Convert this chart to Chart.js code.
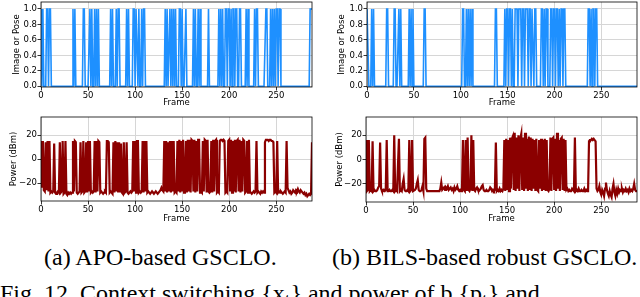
<!DOCTYPE html>
<html>
<head>
<meta charset="utf-8">
<script src="https://cdn.jsdelivr.net/npm/chart.js@4"></script>
<style>
body { margin:0; width:640px; height:297px; overflow:hidden; background:#fff; position:relative; }
canvas { position:absolute; }
.cap { position:absolute; font-family:"Liberation Serif", "Times New Roman", serif; font-size:24px; line-height:24px; color:#000; white-space:nowrap; }
</style>
</head>
<body>
<canvas id="imgA" width="320" height="110" style="left:0;top:0"></canvas>
<canvas id="imgB" width="320" height="110" style="left:320px;top:0"></canvas>
<canvas id="powA" width="320" height="120" style="left:0;top:110px"></canvas>
<canvas id="powB" width="320" height="120" style="left:320px;top:110px"></canvas>
<div class="cap" style="left:44px;top:245px">(a) APO-based GSCLO.</div>
<div class="cap" style="left:332px;top:245px">(b) BILS-based robust GSCLO.</div>
<div class="cap" style="left:0;top:281px">Fig. 12. Context switching {x<sub>t</sub>} and power of b {p<sub>t</sub>} and</div>
<script>
// frames 0..288
const lastFrame = 288

// frames where the image mode is used (value 1), all others are pose (0)
const imageOnA = [0,2,6,7,9,10,34,36,45,46,52,54,57,59,61,74,76,80,82,83,91,93,98,99,101,102,104,107,109,110,
  132,134,137,139,141,143,147,148,150,154,162,164,167,169,178,189,191,193,196,197,199,200,202,204,205,207,208,
  211,212,218,220,227,229,230,239,240,244,246,248,250,251,253,254,286,287,288]
const imageOnB = [0,1,5,7,21,22,29,30,34,36,45,47,49,61,62,102,103,106,108,110,112,137,138,147,149,150,152,153,155,
  158,159,160,162,163,164,166,167,169,170,171,173,174,176,177,179,180,186,187,189,191,192,196,197,199,200,202,203,
  205,207,208,210,211,236,237,239,241,242,244,245]

// transmit power in dBm, one value per frame
const powerA = [
  15,-24,15,-26,-27,14,-26,15,-27,15,
  -28,-27,-28,-27,13,-28,-29,-28,-27,-28,
  14,-28,-27,15,-29,-28,15,-29,-30,-28,
  -29,-28,-29,-28,15,-27,15,14,-28,-29,
  -28,-27,14,-28,-27,15,-28,-27,14,-28,
  15,-27,15,-28,-27,-28,-27,15,-28,15,
  -27,15,14,-28,-27,-28,-29,-28,-27,-28,
  15,15,14,-28,-27,-28,-29,14,-28,15,
  -27,14,-28,14,-27,13,-28,-29,14,-28,
  -27,14,-28,-29,-28,-27,-28,-27,15,-27,
  15,-28,15,15,-28,-27,-28,-27,15,-28,
  15,-27,15,-28,-27,-28,-29,-28,-27,-28,
  -29,-28,-27,-28,-29,-28,-27,-26,-24,-26,
  -27,15,-27,15,-28,14,-27,15,-28,15,
  -27,15,-28,-27,-28,15,-27,16,-28,15,
  -27,16,-28,-27,15,-28,16,-27,16,-28,
  16,15,-27,16,-28,15,-27,16,16,-28,
  -27,-28,15,-27,16,15,-28,16,-27,-28,
  -27,15,-28,16,-27,15,16,-28,-27,-28,
  15,16,16,15,16,15,-28,-27,-28,15,
  16,-27,16,-28,15,-27,16,-28,15,16,
  -27,16,-28,15,-27,16,15,-28,-27,15,
  -28,16,-27,-28,-29,-28,-27,-28,-27,15,
  -28,-27,-28,-29,-27,-28,-27,-28,14,16,
  16,16,15,16,16,15,15,14,-28,-27,
  -28,15,-28,-27,-28,-27,-28,-29,-28,-27,
  -28,15,-24,-26,-28,-27,-29,-28,-26,-27,
  -28,-26,-27,-25,-27,-28,-26,-27,-28,-29,
  -28,-30,-29,-31,-30,-29,-30,-29,14
]
const powerB = [
  16,-26,-25,16,-26,-25,-26,15,-26,-25,
  -26,-26,-25,-23,-22,14,-24,-26,-26,-25,
  -26,-25,16,-26,-26,-25,-26,-26,-25,-26,
  20,-26,-25,-26,-26,17,-26,-25,-26,-20,
  -16,-25,-26,-26,-25,-26,16,-26,-25,16,
  -26,-26,-25,-24,-20,-17,-25,-26,-26,-25,
  -22,-26,17,18,-24,-26,-26,-26,-26,-26,
  -26,-26,-26,-26,-26,-26,-26,-26,-26,-24,
  -19,-25,-24,-23,-25,-23,-24,-22,-25,-24,
  -23,-25,-24,-26,-23,-25,-24,-22,-25,-26,
  -25,-26,-24,16,-25,-26,16,-26,18,-25,
  -26,-24,20,-26,16,-25,-26,-24,-23,-25,
  -26,-25,-24,-22,-21,-25,-26,-26,-25,-26,
  -26,-25,-23,-24,-26,-25,-26,-25,14,-26,
  -25,-26,-24,-26,-25,-26,-24,16,-26,17,
  -25,16,-26,18,-24,17,19,-25,22,-26,
  18,-24,20,-26,17,21,-25,18,-26,22,
  -24,17,-26,19,-25,18,-26,17,-24,16,
  -26,17,-25,-26,16,-24,17,-26,16,-25,
  17,-26,16,-25,-26,-24,18,-26,17,18,
  -25,17,-26,22,-24,16,-26,17,18,-25,
  17,-26,16,-25,-24,-26,-25,-26,-26,-24,
  -25,-26,18,-26,-25,-26,-24,-26,-26,-25,
  -26,-26,-24,-26,-25,-26,-26,15,16,16,
  17,16,17,16,15,-24,-26,-25,-22,-27,
  -29,-25,-27,-30,-24,-19,-25,-28,-30,-26,
  -29,-31,-24,-20,-27,-30,-25,-28,-24,-27,
  -25,-26,-24,-27,-25,-26,-24,-26,-25,-27,
  -24,-26,-25,-26,-24,-20,-25,-26,-26
]

const xTicks = [0, 50, 100, 150, 200, 250]
const imageTicks = [0, 0.2, 0.4, 0.6, 0.8, 1.0]
const powerTicks = [-20, 0, 20]

function onOff(onList) {
  let out = []
  for (let i = 0; i <= lastFrame; i++) out.push(onList.includes(i) ? 1 : 0)
  return out
}

const tickFont = { family: "'DejaVu Sans'", size: 8.5 }

// black frame around the plot area, like matplotlib spines
const boxPlugin = {
  id: 'box',
  afterDraw(chart) {
    const a = chart.chartArea, ctx = chart.ctx
    ctx.save()
    ctx.strokeStyle = '#000'
    ctx.lineWidth = 0.8
    ctx.strokeRect(a.left, a.top, a.right - a.left, a.bottom - a.top)
    ctx.restore()
  }
}

function panel(id, values, color, lw, yMin, yMax, yTicks, yFmt, yTitle, p) {
  new Chart(document.getElementById(id), {
    type: 'line',
    data: {
      datasets: [{
        data: values.map((v, i) => ({ x: i, y: v })),
        borderColor: color,
        borderWidth: lw,
        pointRadius: 0,
        tension: 0,
        fill: false
      }]
    },
    options: {
      responsive: false,
      animation: false,
      events: [],
      layout: { padding: { top: p.top, right: p.right, bottom: p.bottom, left: 0 } },
      plugins: { legend: { display: false }, tooltip: { enabled: false } },
      scales: {
        x: {
          type: 'linear', min: 0, max: lastFrame,
          afterBuildTicks: s => { s.ticks = xTicks.map(v => ({ value: v })) },
          afterFit: s => { s.height = p.xh; s.paddingLeft = 0; s.paddingRight = 0 },
          ticks: { font: tickFont, color: '#000', padding: 0, maxRotation: 0, autoSkip: false },
          grid: { color: '#d6d6d6', lineWidth: 1, tickColor: '#000', tickLength: 3.5, tickWidth: 0.8 },
          border: { display: false },
          title: { display: true, text: 'Frame', font: tickFont, color: '#000', padding: { top: 0, bottom: 0 } }
        },
        y: {
          min: yMin, max: yMax,
          afterBuildTicks: s => { s.ticks = yTicks.map(v => ({ value: v })) },
          afterFit: s => { s.width = p.yw; s.paddingTop = 0; s.paddingBottom = 0 },
          ticks: { font: tickFont, color: '#000', padding: 0.5, callback: yFmt },
          grid: { color: '#d6d6d6', lineWidth: 1, tickColor: '#000', tickLength: 3.5, tickWidth: 0.8 },
          border: { display: false },
          title: { display: true, text: yTitle, font: tickFont, color: '#000', padding: { top: p.tp, bottom: 0 } }
        }
      }
    },
    plugins: [boxPlugin]
  })
}

const fmtImg = v => v.toFixed(1)
const fmtPow = v => (v < 0 ? '\u2212' + Math.abs(v) : String(v))

panel('imgA', onOff(imageOnA), '#1e90ff', 1.6, -0.01, 1.09, imageTicks, fmtImg, 'Image or Pose',
  { top: 2, right: 8, bottom: 2, xh: 21, yw: 41, tp: 12 })
panel('imgB', onOff(imageOnB), '#1e90ff', 1.6, -0.01, 1.09, imageTicks, fmtImg, 'Image or Pose',
  { top: 2, right: 3, bottom: 2, xh: 21, yw: 47, tp: 17 })
panel('powA', powerA, '#8b0000', 2.2, -35, 35, powerTicks, fmtPow, 'Power (dBm)',
  { top: 7, right: 8, bottom: 6, xh: 23, yw: 41, tp: 9 })
panel('powB', powerB, '#8b0000', 2.2, -35, 35, powerTicks, fmtPow, 'Power (dBm)',
  { top: 7, right: 3, bottom: 6, xh: 22, yw: 46, tp: 15 })
</script>
</body>
</html>
